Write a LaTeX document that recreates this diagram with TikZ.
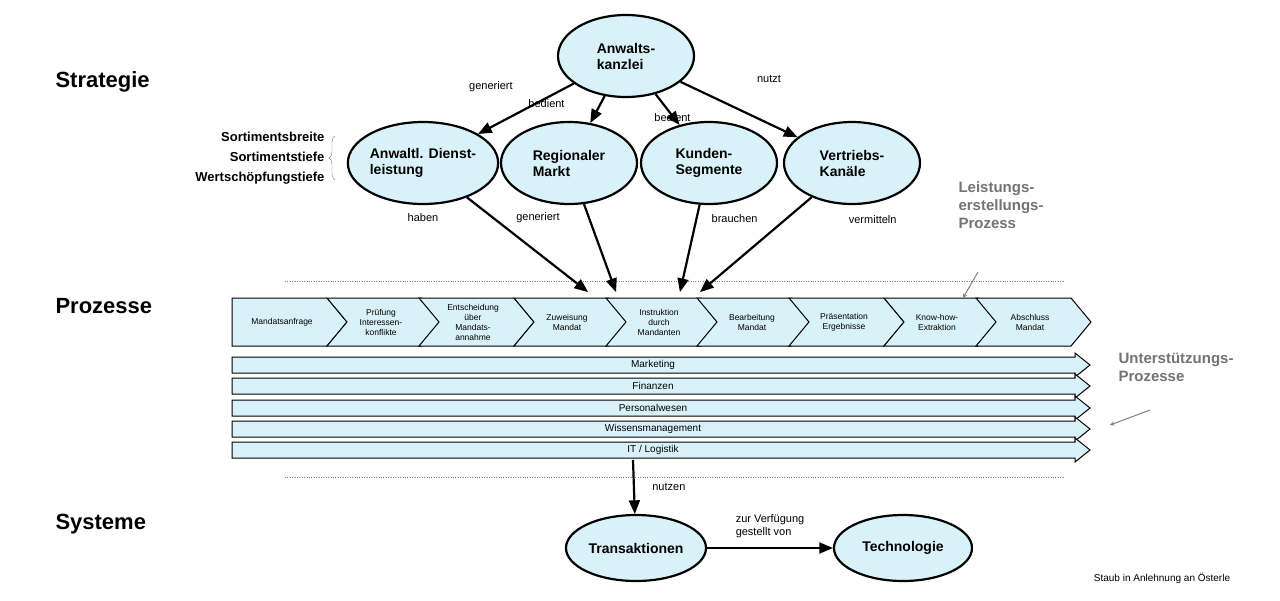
\documentclass[tikz,border=0pt]{standalone}
\usepackage{fontspec}
\setmainfont{Liberation Sans}
\usetikzlibrary{shapes.geometric, arrows, decorations.pathreplacing}
\definecolor{hell}{HTML}{D9F2FA}
\tikzstyle{entity} = [ellipse, draw=black, line width=2.2pt, fill=hell, minimum width=136pt, minimum height=82pt, inner sep=0pt, align=left, font=\fontsize{14}{16}\selectfont\bfseries]
\tikzstyle{edgelabel} = [font=\fontsize{11}{13}\selectfont]
\tikzstyle{layer} = [font=\fontsize{22}{25}\selectfont\bfseries, anchor=west]
\tikzstyle{note} = [font=\fontsize{15}{18}\selectfont\bfseries, text=gray!90!black, align=left]
\tikzstyle{chainstep} = [font=\fontsize{8.5}{10}\selectfont, align=center]
\tikzstyle{support} = [font=\fontsize{10}{11}\selectfont]
\tikzstyle{arrow} = [line width=2.2pt,->,>=triangle 45]
\tikzstyle{thinarrow} = [gray, line width=1pt,->,>=stealth]

\begin{document}
\begin{tikzpicture}[x=1pt, y=-1pt]
                \useasboundingbox (0,0) rectangle (1280,600);
                \node (strat) [layer] at (52,82) {Strategie};
                \node (proz) [layer] at (52,306) {Prozesse};
                \node (sys) [layer] at (52,524) {Systeme};

                \node (kanzlei) [entity] at (626,56) {Anwalts-\\kanzlei};
                \node (dienst) [entity] at (423,163) {Anwaltl. Dienst-\\leistung};
                \node (markt) [entity] at (569,163) {Regionaler\\Markt};
                \node (kunden) [entity] at (709,163) {Kunden-\\Segmente};
                \node (kanal) [entity] at (852,163) {Vertriebs-\\Kanäle};

                \node (sortiment) [font=\fontsize{13}{20}\selectfont\bfseries, align=right, anchor=east] at (328,158) {Sortimentsbreite\\Sortimentstiefe\\Wertschöpfungstiefe};
                \draw [gray, decorate, decoration={brace, amplitude=6pt}] (335,180) -- (335,136);

                \draw [arrow] (kanzlei) -- node[edgelabel, xshift=-35pt, yshift=22pt] {generiert} (dienst);
                \draw [arrow] (kanzlei) -- node[edgelabel, xshift=-51pt, yshift=6pt] {bedient} (markt);
                \draw [arrow] (kanzlei) -- node[edgelabel, xshift=5pt, yshift=-8pt] {bedient} (kunden);
                \draw [arrow] (kanzlei) -- node[edgelabel, xshift=30pt, yshift=31pt] {nutzt} (kanal);

                % Prozesskette
                \draw [gray, dotted] (285,281) -- (1065,281);
                \draw [gray, dotted] (285,477) -- (1065,477);
                \foreach \x [count=\i] in {232,327,419,514,606,697,789,884,976} {
                    \ifnum\i=1
                        \draw [fill=hell, line width=1pt] (\x,298) -- (\x+95,298) -- (\x+115,322) -- (\x+95,346) -- (\x,346) -- cycle;
                    \else
                        \draw [fill=hell, line width=1pt] (\x,298) -- (\x+95,298) -- (\x+115,322) -- (\x+95,346) -- (\x,346) -- (\x+20,322) -- cycle;
                    \fi
                }
                \node (p1) [chainstep] at (282,322) {Mandatsanfrage};
                \node (p2) [chainstep] at (381,322) {Prüfung\\Interessen-\\konflikte};
                \node (p3) [chainstep] at (473,322) {Entscheidung\\über\\Mandats-\\annahme};
                \node (p4) [chainstep] at (567,322) {Zuweisung\\Mandat};
                \node (p5) [chainstep] at (659,322) {Instruktion\\durch\\Mandanten};
                \node (p6) [chainstep] at (752,322) {Bearbeitung\\Mandat};
                \node (p7) [chainstep] at (844,322) {Präsentation\\Ergebnisse};
                \node (p8) [chainstep] at (937,322) {Know-how-\\Extraktion};
                \node (p9) [chainstep] at (1030,322) {Abschluss\\Mandat};
                \coordinate (in1) at (588,292);
                \coordinate (in2) at (616,292);
                \coordinate (in3) at (680,292);
                \coordinate (in4) at (700,292);
                \draw [arrow] (dienst) -- node[edgelabel, pos=0, xshift=-44pt, yshift=-20pt] {haben} (in1);
                \draw [arrow] (markt) -- node[edgelabel, pos=0, xshift=-46pt, yshift=-14pt] {generiert} (in2);
                \draw [arrow] (kunden) -- node[edgelabel, pos=0, xshift=35pt, yshift=-14pt] {brauchen} (in3);
                \draw [arrow] (kanal) -- node[edgelabel, pos=0, xshift=61pt, yshift=-22pt] {vermitteln} (in4);

                % Unterstuetzung
                \foreach \y/\name/\txt in {365/s1/Marketing, 386/s2/Finanzen, 408/s3/Personalwesen, 429/s4/Wissensmanagement, 450/s5/{IT / Logistik}} {
                    \draw [fill=hell, line width=1pt] (232,\y-8) -- (1075,\y-8) -- (1075,\y-12) -- (1090,\y) -- (1075,\y+12) -- (1075,\y+8) -- (232,\y+8) -- cycle;
                    \node (\name) [support] at (653,\y) {\txt};
                }

                \node (leistung) [note, anchor=north west] at (955,178) {Leistungs-\\erstellungs-\\Prozess};
                \node (unter) [note, anchor=north west] at (1115,350) {Unterstützungs-\\Prozesse};
                \coordinate (lp) at (963,298);
                \coordinate (up) at (1110,425);
                \draw [thinarrow] (978,272) -- (lp);
                \draw [thinarrow] (1150,410) -- (up);

                % Systeme
                \node (trans) [entity, minimum width=140pt, minimum height=66pt] at (636,548) {Transaktionen};
                \node (tech) [entity, minimum width=138pt, minimum height=66pt] at (903,548) {Technologie};
                \coordinate (out) at (633,460);
                \draw [arrow] (out) -- node[edgelabel, right=14pt] {nutzen} (trans);
                \draw [arrow] (trans) -- node[edgelabel, above=6pt, align=left] {zur Verfügung\\gestellt von} (tech);
                \node (quelle) [font=\fontsize{10}{11}\selectfont] at (1162,578) {Staub in Anlehnung an Österle};
            \end{tikzpicture}
\end{document}
